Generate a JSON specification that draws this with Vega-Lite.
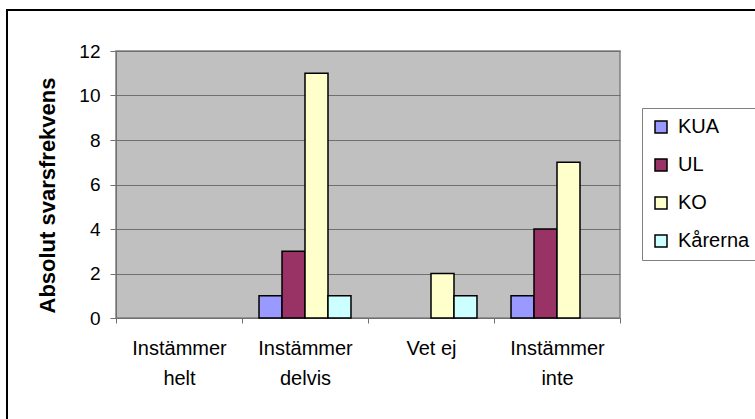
{
  "$schema": "https://vega.github.io/schema/vega-lite/v6.json",
  "width": 504,
  "height": 267,
  "autosize": {"type": "none"},
  "padding": {"left": 116, "top": 51, "right": 135, "bottom": 101},
  "background": "white",
  "config": {
    "font": "Liberation Sans",
    "view": {"fill": "#C0C0C0", "stroke": "#808080", "strokeWidth": 1.5},
    "axis": {"labelFont": "Liberation Sans", "titleFont": "Liberation Sans", "labelColor": "black", "titleColor": "black"}
  },
  "layer": [
    {
      "data": {"values": [{"frame": 1}]},
      "mark": {"type": "rect", "fill": "transparent", "stroke": "black", "strokeWidth": 2},
      "encoding": {
        "x": {"value": -109},
        "x2": {"value": 700},
        "y": {"value": -41},
        "y2": {"value": 500}
      }
    },
    {
      "data": {
        "values": [
          {"kategori": "Instämmer helt", "grupp": "KUA", "value": 0},
          {"kategori": "Instämmer helt", "grupp": "UL", "value": 0},
          {"kategori": "Instämmer helt", "grupp": "KO", "value": 0},
          {"kategori": "Instämmer helt", "grupp": "Kårerna", "value": 0},
          {"kategori": "Instämmer delvis", "grupp": "KUA", "value": 1},
          {"kategori": "Instämmer delvis", "grupp": "UL", "value": 3},
          {"kategori": "Instämmer delvis", "grupp": "KO", "value": 11},
          {"kategori": "Instämmer delvis", "grupp": "Kårerna", "value": 1},
          {"kategori": "Vet ej", "grupp": "KUA", "value": 0},
          {"kategori": "Vet ej", "grupp": "UL", "value": 0},
          {"kategori": "Vet ej", "grupp": "KO", "value": 2},
          {"kategori": "Vet ej", "grupp": "Kårerna", "value": 1},
          {"kategori": "Instämmer inte", "grupp": "KUA", "value": 1},
          {"kategori": "Instämmer inte", "grupp": "UL", "value": 4},
          {"kategori": "Instämmer inte", "grupp": "KO", "value": 7},
          {"kategori": "Instämmer inte", "grupp": "Kårerna", "value": 0}
        ]
      },
      "transform": [{"filter": "datum.value > 0"}],
      "mark": {"type": "bar", "stroke": "black", "strokeWidth": 1.5},
      "encoding": {
        "x": {
          "field": "kategori",
          "type": "nominal",
          "scale": {"domain": ["Instämmer helt", "Instämmer delvis", "Vet ej", "Instämmer inte"], "paddingInner": 0, "paddingOuter": 0},
          "axis": {
            "title": null,
            "tickBand": "extent",
            "labelAngle": 0,
            "labelFontSize": 20,
            "labelLineHeight": 30,
            "labelPadding": 15,
            "labelLimit": 0,
            "tickSize": 5,
            "tickColor": "#707070",
            "domainColor": "#707070",
            "grid": false,
            "labelExpr": "datum.label == 'Vet ej' ? 'Vet ej' : split(datum.label, ' ')"
          }
        },
        "xOffset": {
          "field": "grupp",
          "type": "nominal",
          "scale": {"domain": ["KUA", "UL", "KO", "Kårerna"], "paddingInner": 0, "paddingOuter": 0.74}
        },
        "y": {
          "field": "value",
          "type": "quantitative",
          "scale": {"domain": [0, 12], "nice": false},
          "axis": {
            "title": "Absolut svarsfrekvens",
            "titleFontSize": 22,
            "titleFontWeight": "bold",
            "titlePadding": 19,
            "titleY": 144,
            "values": [0, 2, 4, 6, 8, 10, 12],
            "labelFontSize": 19,
            "tickSize": 6,
            "labelPadding": 10,
            "gridColor": "#707070",
            "gridOpacity": 1,
            "tickColor": "#707070",
            "domainColor": "#707070"
          }
        },
        "color": {
          "field": "grupp",
          "type": "nominal",
          "scale": {"domain": ["KUA", "UL", "KO", "Kårerna"], "range": ["#9999FF", "#993366", "#FFFFCC", "#CCFFFF"]},
          "legend": {
            "orient": "none",
            "legendX": 526,
            "legendY": 57,
            "title": null,
            "symbolType": "square",
            "symbolSize": 144,
            "symbolStrokeColor": "black",
            "symbolStrokeWidth": 1.5,
            "labelFont": "Liberation Sans",
            "labelFontSize": 20,
            "labelColor": "black",
            "labelOffset": 7,
            "rowPadding": 18,
            "padding": 9,
            "strokeColor": "#808080",
            "fillColor": "white"
          }
        }
      }
    }
  ]
}
